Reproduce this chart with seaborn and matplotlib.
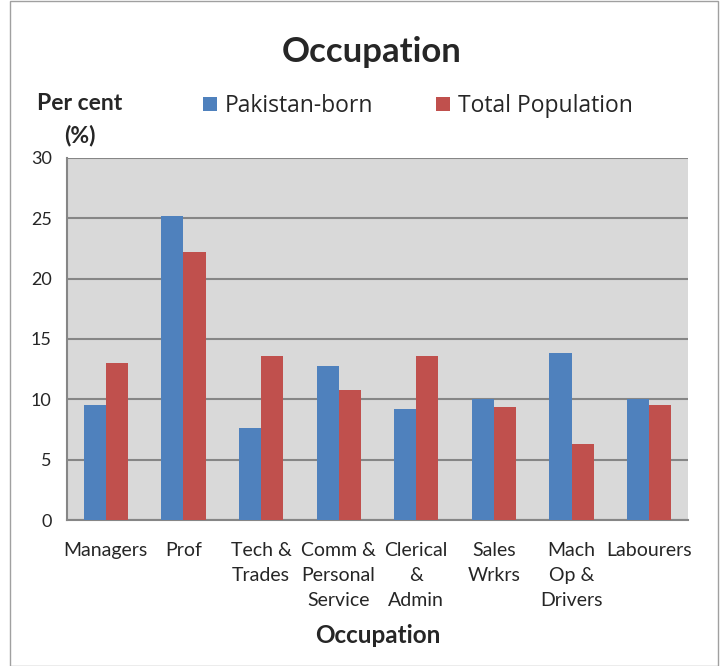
import seaborn as sns
import matplotlib.pyplot as plt
import pandas as pd
from matplotlib.patches import Rectangle

categories = ["Managers", "Prof", "Tech &\nTrades", "Comm &\nPersonal\nService",
              "Clerical\n&\nAdmin", "Sales\nWrkrs", "Mach\nOp &\nDrivers", "Labourers"]
pakistan_born = [9.5, 25.2, 7.6, 12.8, 9.2, 10.0, 13.8, 10.0]
total_population = [13.0, 22.2, 13.6, 10.8, 13.6, 9.4, 6.3, 9.5]
series = ["Pakistan-born", "Total Population"]

df = pd.DataFrame({
    "Occupation": categories * 2,
    "value": pakistan_born + total_population,
    "series": [series[0]] * len(categories) + [series[1]] * len(categories),
})

sns.set_style("white")
plt.rcParams['font.family'] = ['Lato', 'DejaVu Sans']

fig = plt.figure(figsize=(7.28, 6.66), dpi=100)
ax = fig.add_axes([0.092, 0.219, 0.853, 0.544])
ax.set_facecolor("#D9D9D9")

sns.barplot(data=df, x="Occupation", y="value", hue="series",
            palette=["#4F81BD", "#C0504D"], width=0.57, saturation=1,
            linewidth=0, ax=ax, zorder=3)

ax.set_ylim(0, 30)
ax.set_xlim(-0.5, len(categories) - 0.5)
ax.set_yticks(range(0, 31, 5))
ax.grid(axis="y", color="#868686", linewidth=1.5, zorder=1)
ax.set_axisbelow(True)
for s in ["top", "right"]:
    ax.spines[s].set_visible(False)
ax.spines["left"].set_color("#868686")
ax.spines["bottom"].set_color("#868686")
ax.spines["left"].set_linewidth(1.5)
ax.spines["bottom"].set_linewidth(1.5)

ax.tick_params(axis="y", length=5, color="#868686", labelsize=13, pad=6)
ax.tick_params(axis="x", which="major", length=0, labelsize=14, pad=16)
ax.set_xticks([i - 0.5 for i in range(len(categories) + 1)], minor=True)
ax.tick_params(axis="x", which="minor", length=5, color="#868686")
for lbl in ax.get_xticklabels():
    lbl.set_verticalalignment("top")
    lbl.set_linespacing(1.55)

ax.set_xlabel("Occupation", fontsize=17.5, fontweight="bold", labelpad=11)
ax.set_ylabel("")
fig.text(0.51, 0.922, "Occupation", ha="center", va="center", fontsize=25, fontweight="bold")
fig.text(0.11, 0.82, "Per cent\n(%)", ha="center", va="center", fontsize=16.5,
         fontweight="bold", linespacing=1.6)

ax.legend(loc="center left", bbox_to_anchor=(0.263, 0.841), bbox_transform=fig.transFigure,
          ncol=2, frameon=False, handlelength=0.6, handleheight=0.6,
          handletextpad=0.35, columnspacing=2.75, borderpad=0,
          prop={"family": ["Open Sans", "DejaVu Sans"], "size": 16.5})

fig.patches.append(Rectangle((0.014, 0.0), 0.972, 0.999, transform=fig.transFigure,
                             fill=False, edgecolor="#A0A0A0", linewidth=1))

fig.savefig("out.png", dpi=100)
